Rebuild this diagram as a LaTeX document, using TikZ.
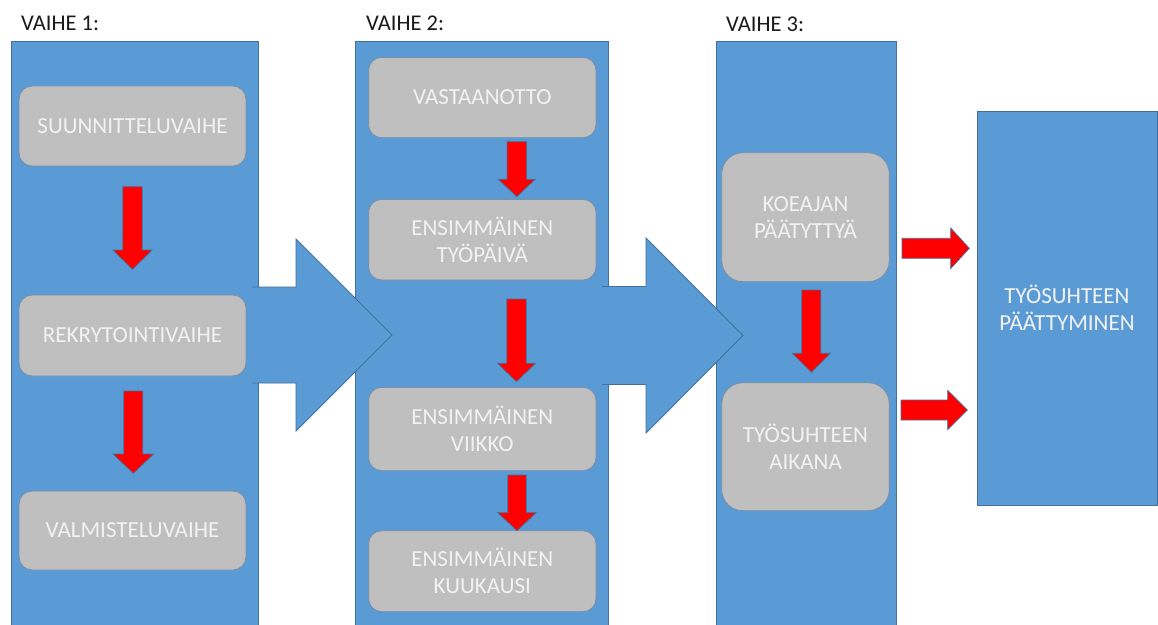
\documentclass[tikz,border=0pt]{standalone}
\usepackage{fontspec}
\setmainfont{Carlito}
\usetikzlibrary{calc}

\definecolor{colblue}{HTML}{5B9BD5}
\definecolor{colline}{HTML}{41719C}
\definecolor{boxgray}{HTML}{BFBFBF}
\definecolor{boxline}{HTML}{7690AD}
\definecolor{boxtext}{HTML}{F2F2F2}
\definecolor{arrred}{HTML}{FF0000}
\definecolor{titletext}{HTML}{1A1A1A}

\newcommand\labelfont{\fontsize{23}{27.3}\selectfont}
\newcommand\titlefont{\fontsize{22.5}{27}\selectfont}

% red block arrow pointing down: #1 start, #2 tip, #3 head length, #4 shaft half width, #5 head half width
\newcommand\redDown[5]{%
  \path[redarrow] let \p1=(#1), \p2=(#2) in
    ({\x1-#4pt},\y1) -- ({\x1+#4pt},\y1) -- ({\x1+#4pt},{\y2+#3pt}) --
    ({\x1+#5pt},{\y2+#3pt}) -- (\x1,\y2) -- ({\x1-#5pt},{\y2+#3pt}) --
    ({\x1-#4pt},{\y2+#3pt}) -- cycle;}
% red block arrow pointing right
\newcommand\redRight[5]{%
  \path[redarrow] let \p1=(#1), \p2=(#2) in
    (\x1,{\y1+#4pt}) -- ({\x2-#3pt},{\y1+#4pt}) -- ({\x2-#3pt},{\y1+#5pt}) --
    (\x2,\y1) -- ({\x2-#3pt},{\y1-#5pt}) -- ({\x2-#3pt},{\y1-#4pt}) --
    (\x1,{\y1-#4pt}) -- cycle;}
% wide blue block arrow joining two phases (left end left open)
\newcommand\blueRight[5]{%
  \fill[colblue] let \p1=(#1), \p2=(#2) in
    (\x1,{\y1+#4pt}) -- ({\x2-#3pt},{\y1+#4pt}) -- ({\x2-#3pt},{\y1+#5pt}) --
    (\x2,\y1) -- ({\x2-#3pt},{\y1-#5pt}) -- ({\x2-#3pt},{\y1-#4pt}) --
    (\x1,{\y1-#4pt}) -- cycle;
  \draw[colline, line width=0.9pt, line join=miter] let \p1=(#1), \p2=(#2) in
    (\x1,{\y1+#4pt}) -- ({\x2-#3pt},{\y1+#4pt}) -- ({\x2-#3pt},{\y1+#5pt}) --
    (\x2,\y1) -- ({\x2-#3pt},{\y1-#5pt}) -- ({\x2-#3pt},{\y1-#4pt}) --
    (\x1,{\y1-#4pt});}

\begin{document}
\begin{tikzpicture}[x=1pt, y=-1pt,
  phase/.style={rectangle, fill=colblue, draw=colline, line width=0.9pt, inner sep=0pt},
  stepbox/.style={rectangle, rounded corners=13pt, fill=boxgray, draw=boxline,
    line width=0.9pt, text=boxtext, align=center, font=\labelfont, inner sep=0pt,
    minimum width=227pt, minimum height=80pt},
  tallbox/.style={stepbox, rounded corners=21pt, minimum width=167.6pt, minimum height=128.5pt},
  endbox/.style={phase, text=boxtext, align=center, font=\labelfont},
  title/.style={anchor=base west, inner sep=0pt, text=titletext, font=\titlefont},
  redarrow/.style={fill=arrred, draw=colline, line width=0.7pt, line join=miter}]

\useasboundingbox (0,0) rectangle (1158,624);
\fill[white] (0,0) rectangle (1158,624);

% phase titles
\node[title] (t1) at (21,30) {VAIHE 1:};
\node[title] (t2) at (366,30) {VAIHE 2:};
\node[title] (t3) at (726,31) {VAIHE 3:};

% phase columns
\node[phase, minimum width=247pt, minimum height=586pt] (p1) at (134.5,334) {};
\node[phase, minimum width=253pt, minimum height=586pt] (p2) at (481.5,334) {};
\node[phase, minimum width=180pt, minimum height=586pt] (p3) at (806,334) {};
\node[endbox, minimum width=180pt, minimum height=394pt] (p4) at (1067,308)
  {TYÖSUHTEEN\\PÄÄTTYMINEN};

% arrows between phases
\coordinate (b1s) at (252,335);
\coordinate (b1t) at (392,335);
\coordinate (b2s) at (602,335.5);
\coordinate (b2t) at (743,335.5);
\blueRight{b1s}{b1t}{96}{48}{96}
\blueRight{b2s}{b2t}{97}{49}{97.5}

% phase 1 steps
\node[stepbox] (s11) at (132.5,126) {SUUNNITTELUVAIHE};
\node[stepbox, minimum height=81pt] (s12) at (132.5,335.5) {REKRYTOINTIVAIHE};
\node[stepbox, minimum height=79pt] (s13) at (132.5,530.5) {VALMISTELUVAIHE};

% phase 2 steps
\node[stepbox, minimum width=227.5pt, minimum height=80.4pt] (s21) at (482.3,97.5) {VASTAANOTTO};
\node[stepbox, minimum width=227.5pt, minimum height=80.7pt] (s22) at (482.3,239.7) {ENSIMMÄINEN\\TYÖPÄIVÄ};
\node[stepbox, minimum width=227.5pt, minimum height=83.4pt] (s23) at (482.3,429) {ENSIMMÄINEN\\VIIKKO};
\node[stepbox, minimum width=227.5pt, minimum height=81pt] (s24) at (482.3,571.2) {ENSIMMÄINEN\\KUUKAUSI};

% phase 3 steps
\node[tallbox, minimum height=129pt] (s31) at (805.5,217.2) {KOEAJAN\\PÄÄTYTTYÄ};
\node[tallbox, minimum height=128pt] (s32) at (805.5,446.7) {TYÖSUHTEEN\\AIKANA};

% red step arrows
\coordinate (r1s) at (132.5,186.7);  \coordinate (r1t) at (132.5,269.3);
\coordinate (r2s) at (133.3,391);    \coordinate (r2t) at (133.3,473.3);
\coordinate (r3s) at (516.8,141.7);  \coordinate (r3t) at (516.8,196.7);
\coordinate (r4s) at (516.5,299);    \coordinate (r4t) at (516.5,381.7);
\coordinate (r5s) at (517,475);      \coordinate (r5t) at (517,530.7);
\coordinate (r6s) at (811.3,290);    \coordinate (r6t) at (811.3,372.3);
\redDown{r1s}{r1t}{19.3}{9.7}{19.7}
\redDown{r2s}{r2t}{19.3}{9.5}{20.3}
\redDown{r3s}{r3t}{17.4}{9.8}{18.4}
\redDown{r4s}{r4t}{18.4}{9.7}{19}
\redDown{r5s}{r5t}{18}{9.2}{19.2}
\redDown{r6s}{r6t}{19}{9.5}{19}

% red arrows towards the end of employment
\coordinate (r7s) at (902,248.3);  \coordinate (r7t) at (969.3,248.3);
\coordinate (r8s) at (901,410);    \coordinate (r8t) at (967.3,410);
\redRight{r7s}{r7t}{18.6}{10}{20.3}
\redRight{r8s}{r8t}{19.6}{10}{19.7}
\end{tikzpicture}
\end{document}
